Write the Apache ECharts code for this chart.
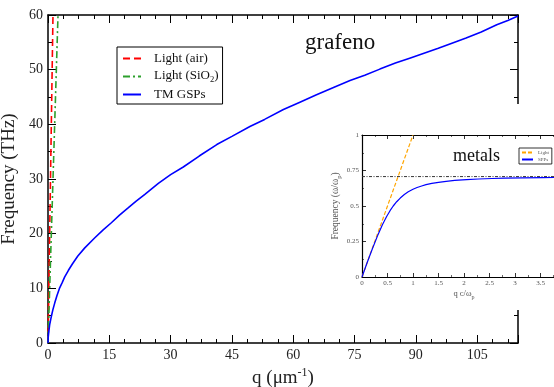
<!DOCTYPE html>
<html>
<head>
<meta charset="utf-8">
<script src="https://cdn.jsdelivr.net/npm/echarts@6/dist/echarts.min.js"></script>
<style>html,body{margin:0;padding:0;background:#fff}#c{width:554px;height:387px}</style>
</head>
<body>
<div id="c"></div>
<script>
// ---- Main panel (grafeno) ----
const mainXTicks = [0, 15, 30, 45, 60, 75, 90, 105];
const mainYTicks = [0, 10, 20, 30, 40, 50, 60];
const airQ = [0, 1.22];
const airF = [0, 60];
const sio2Q = [0, 2.45];
const sio2F = [0, 60];
const gspQ = [0, 0.05, 0.17, 0.4, 0.83, 1.2, 1.64, 2.2, 2.86, 3.5, 4.09, 5, 6, 7.3, 9, 11.4, 13.5, 15.5, 17.5, 19.6, 21.5, 23.7, 27, 30, 33.1, 37, 41.3, 45, 49.4, 53, 57.6, 61.5, 65.7, 70, 73.9, 77.5, 81.2, 85, 88.5, 92, 95.5, 99, 102.3, 106, 109.8, 112.5, 115];
const gspF = [0, 1.0, 1.9, 3.3, 4.9, 6.1, 7.3, 8.7, 10.1, 11.1, 12.1, 13.3, 14.5, 15.9, 17.4, 19.2, 20.7, 22.0, 23.4, 24.7, 25.9, 27.2, 29.2, 30.8, 32.2, 34.2, 36.3, 37.8, 39.6, 40.9, 42.7, 44.0, 45.4, 46.8, 48.0, 49.0, 50.1, 51.2, 52.1, 53.0, 53.9, 54.9, 55.8, 56.9, 58.2, 59.0, 59.8];
// ---- Inset (metals) ----
const insetXTicks = [0, 0.5, 1, 1.5, 2, 2.5, 3, 3.5];
const insetYTicks = [0, 0.25, 0.5, 0.75, 1];
const lightX = [0, 1];
const lightY = [0, 1];
const asymX = [0, 4];
const asymY = [0.7071, 0.7071];
const sppX = [0, 0.1, 0.2, 0.316, 0.4, 0.483, 0.55, 0.612, 0.68, 0.75, 0.83, 0.907, 1.0, 1.08, 1.17, 1.255, 1.37, 1.5, 1.65, 1.818, 2.05, 2.284, 2.55, 2.8, 3.15, 3.54, 4];
const sppY = [0, 0.1, 0.196, 0.3, 0.368, 0.426, 0.467, 0.5, 0.53, 0.556, 0.581, 0.6, 0.618, 0.63, 0.641, 0.65, 0.659, 0.667, 0.674, 0.68, 0.686, 0.69, 0.6935, 0.696, 0.698, 0.7, 0.7015];

const zip = (a, b) => a.map((v, i) => [v, b[i]]);
const SERIF = 'Liberation Serif';

const chart = echarts.init(document.getElementById('c'), null, {renderer: 'canvas'});

function mainAxisCommon(showLabel, hideMax) {
  return {
    axisLine: {show: true, onZero: false, lineStyle: {color: '#000', width: 1.5}},
    axisTick: {show: true, inside: true, length: 8, lineStyle: {color: '#000', width: 1}},
    splitLine: {show: false},
    axisLabel: {show: showLabel, color: '#222', fontFamily: SERIF, fontSize: 14, margin: 5,
      showMaxLabel: !hideMax}
  };
}
function insetAxisCommon(showLabel, hideMax) {
  return {
    axisLine: {show: true, onZero: false, lineStyle: {color: '#000', width: 1.2}},
    axisTick: {show: true, inside: true, length: 4, lineStyle: {color: '#000', width: 0.8}},
    minorTick: {show: true, splitNumber: 2, length: 2, lineStyle: {color: '#000', width: 0.6}},
    splitLine: {show: false},
    axisLabel: {show: showLabel, color: '#555', fontFamily: SERIF, fontSize: 7, margin: 3,
      showMaxLabel: !hideMax}
  };
}

const option = {
  animation: false,
  backgroundColor: '#fff',
  grid: [
    {left: 48, top: 15, right: 36, bottom: 44, containLabel: false, outerBoundsMode: 'none'},
    {left: 362, top: 135, right: -12, bottom: 110, containLabel: false, outerBoundsMode: 'none'}
  ],
  xAxis: [
    Object.assign(mainAxisCommon(true, true), {
      gridIndex: 0, type: 'value', min: 0, max: 115, interval: 15, position: 'bottom',
      minorTick: {show: true, splitNumber: 4, length: 4, lineStyle: {color: '#000', width: 1}},
      name: '{a|q (μm}{s|-1}{a|)}', nameLocation: 'middle', nameGap: 19,
      nameTextStyle: {rich: {
        a: {fontFamily: SERIF, fontSize: 19, color: '#222', verticalAlign: 'bottom'},
        s: {fontFamily: SERIF, fontSize: 12, color: '#222', verticalAlign: 'top', padding: [0, 0, 9, 0]}
      }}
    }),
    Object.assign(mainAxisCommon(false, true), {
      gridIndex: 0, type: 'value', min: 0, max: 115, interval: 15, position: 'top',
      minorTick: {show: true, splitNumber: 4, length: 4, lineStyle: {color: '#000', width: 1}}
    }),
    Object.assign(insetAxisCommon(true, true), {
      gridIndex: 1, type: 'value', min: 0, max: 4, interval: 0.5, position: 'bottom', z: 10,
      name: '{a|q c/ω}{s|p}', nameLocation: 'middle', nameGap: 12,
      nameTextStyle: {rich: {
        a: {fontFamily: SERIF, fontSize: 8.5, color: '#555', verticalAlign: 'top'},
        s: {fontFamily: SERIF, fontSize: 6, color: '#555', verticalAlign: 'bottom', padding: [5, 0, 0, 0]}
      }}
    }),
    Object.assign(insetAxisCommon(false, true), {
      gridIndex: 1, type: 'value', min: 0, max: 4, interval: 0.5, position: 'top', z: 10
    })
  ],
  yAxis: [
    Object.assign(mainAxisCommon(true, false), {
      gridIndex: 0, type: 'value', min: 0, max: 60, interval: 10, position: 'left',
      minorTick: {show: true, splitNumber: 2, length: 4, lineStyle: {color: '#000', width: 1}},
      name: 'Frequency (THz)', nameLocation: 'middle', nameGap: 18,
      nameTextStyle: {fontFamily: SERIF, fontSize: 19, color: '#222'}
    }),
    Object.assign(mainAxisCommon(false, false), {
      gridIndex: 0, type: 'value', min: 0, max: 60, interval: 10, position: 'right',
      minorTick: {show: true, splitNumber: 2, length: 4, lineStyle: {color: '#000', width: 1}}
    }),
    Object.assign(insetAxisCommon(true, false), {
      gridIndex: 1, type: 'value', min: 0, max: 1, interval: 0.25, position: 'left', z: 10,
      axisLabel: {show: true, color: '#555', fontFamily: SERIF, fontSize: 7, margin: 3,
        formatter: v => String(v)},
      name: '{a|Frequency (ω/ω}{s|p}{a|)}', nameLocation: 'middle', nameGap: 16,
      nameTextStyle: {rich: {
        a: {fontFamily: SERIF, fontSize: 9.5, color: '#555', verticalAlign: 'top'},
        s: {fontFamily: SERIF, fontSize: 6.5, color: '#555', verticalAlign: 'bottom', padding: [5, 0, 0, 0]}
      }}
    })
  ],
  legend: [
    {
      left: 117, top: 47, orient: 'vertical', itemGap: 4, itemWidth: 18, itemHeight: 13,
      padding: [5, 4, 3, 5], borderColor: '#000', borderWidth: 1, backgroundColor: '#fff',
      itemStyle: {opacity: 0},
      data: ['Light (air)', 'Light (SiO2)', 'TM GSPs'],
      formatter: name => name === 'Light (SiO2)' ? '{f|Light (SiO}{s|2}{a|)}' : '{f|' + name + '}',
      textStyle: {
        fontFamily: SERIF, fontSize: 13, color: '#111',
        rich: {
          f: {fontFamily: SERIF, fontSize: 13, color: '#111', verticalAlign: 'top', padding: [0, 0, 0, 8]},
          a: {fontFamily: SERIF, fontSize: 13, color: '#111', verticalAlign: 'top'},
          s: {fontFamily: SERIF, fontSize: 8.5, color: '#111', verticalAlign: 'bottom', padding: [6, 0, 0, 0]}
        }
      }
    },
    {
      left: 519, top: 148, orient: 'vertical', itemGap: 2, itemWidth: 11, itemHeight: 5,
      padding: [2, 3, 2, 2], borderColor: '#000', borderWidth: 0.8, backgroundColor: '#fff', z: 20,
      itemStyle: {opacity: 0},
      data: ['Light', 'SPPs'],
      textStyle: {fontFamily: SERIF, fontSize: 5, color: '#555'}
    }
  ],
  graphic: [
    {type: 'rect', z: 8, shape: {x: 330, y: 104, width: 230, height: 206}, style: {fill: '#fff'}, silent: true},
    {type: 'text', z: 5, left: 305, top: 31, style: {text: 'grafeno', fontFamily: SERIF, fontSize: 23, fill: '#111'}},
    {type: 'text', z: 20, left: 453, top: 147, style: {text: 'metals', fontFamily: SERIF, fontSize: 18, fill: '#111'}}
  ],
  series: [
    {name: 'Light (air)', type: 'line', xAxisIndex: 0, yAxisIndex: 0, data: zip(airQ, airF), showSymbol: false, symbol: 'none',
      lineStyle: {color: '#ff0000', width: 1.6, type: [7, 4]}, itemStyle: {color: '#ff0000'}, z: 3},
    {name: 'Light (SiO2)', type: 'line', xAxisIndex: 0, yAxisIndex: 0, data: zip(sio2Q, sio2F), showSymbol: false, symbol: 'none',
      lineStyle: {color: '#2ca02c', width: 1.6, type: [7, 3, 2, 3]}, itemStyle: {color: '#2ca02c'}, z: 3},
    {name: 'TM GSPs', type: 'line', xAxisIndex: 0, yAxisIndex: 0, data: zip(gspQ, gspF), showSymbol: false, symbol: 'none',
      lineStyle: {color: '#0000ff', width: 1.6}, itemStyle: {color: '#0000ff'}, z: 3},
    {name: 'Light', type: 'line', xAxisIndex: 2, yAxisIndex: 2, data: zip(lightX, lightY), showSymbol: false, symbol: 'none',
      lineStyle: {color: '#ffa500', width: 1.2, type: [4, 2]}, itemStyle: {color: '#ffa500'}, z: 12},
    {name: 'asym', type: 'line', xAxisIndex: 2, yAxisIndex: 2, data: zip(asymX, asymY), showSymbol: false, symbol: 'none',
      lineStyle: {color: '#333', width: 1, type: [3, 1.5, 1, 1.5]}, z: 12},
    {name: 'SPPs', type: 'line', xAxisIndex: 2, yAxisIndex: 2, data: zip(sppX, sppY), showSymbol: false, symbol: 'none',
      lineStyle: {color: '#0000ff', width: 1.2}, itemStyle: {color: '#0000ff'}, z: 12}
  ]
};
chart.setOption(option);
</script>
</body>
</html>
